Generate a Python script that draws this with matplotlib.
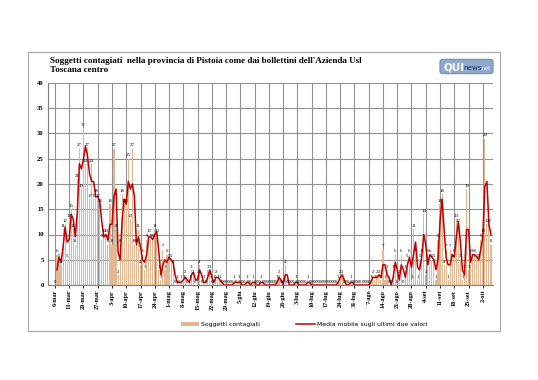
import matplotlib
matplotlib.use("Agg")
import matplotlib.pyplot as plt
import pandas as pd
from matplotlib.patches import Rectangle, FancyBboxPatch

# daily new cases, from 6 march to 6 october
cases = [
    0, 6, 5, 4, 11, 12, 5, 13, 15, 11,
    8, 21, 27, 19, 31, 24, 27, 17, 24, 17,
    18, 17, 16, 9, 10, 10, 8, 16, 8, 27,
    11, 2, 8, 18, 16, 16, 25, 13, 27, 8,
    8, 11, 4, 6, 3, 9, 10, 9, 9, 11,
    10, 3, 1, 7, 3, 6, 5, 5, 4, 0,
    1, 0, 1, 1, 2, 0, 1, 3, 2, 0,
    2, 4, 0, 1, 0, 3, 3, 0, 1, 2,
    1, 1, 0, 0, 0, 0, 0, 0, 1, 0,
    1, 0, 0, 0, 1, 0, 0, 1, 0, 0,
    0, 1, 0, 0, 0, 0, 0, 0, 0, 1,
    2, 0, 0, 4, 0, 0, 0, 0, 1, 0,
    0, 0, 0, 0, 1, 0, 0, 0, 0, 0,
    0, 0, 0, 0, 0, 0, 0, 0, 0, 1,
    2, 2, 0, 0, 0, 1, 0, 0, 0, 0,
    0, 0, 0, 0, 0, 1, 2, 1, 2, 2,
    1, 7, 1, 3, 0, 0, 3, 6, 0, 2,
    6, 0, 3, 5, 6, 1, 11, 6, 1, 5,
    6, 14, 2, 6, 6, 5, 5, 1, 9, 16,
    18, 4, 7, 1, 7, 5, 6, 13, 12, 5,
    1, 3, 19, 3, 6, 6, 6, 5, 5, 9,
    10, 29, 12, 12, 8,
]

week_labels = [
    "6-mar", "13-mar", "20-mar", "27-mar", "3-apr", "10-apr", "17-apr",
    "24-apr", "1-mag", "8-mag", "15-mag", "22-mag", "29-mag", "5-giu",
    "12-giu", "19-giu", "26-giu", "3-lug", "10-lug", "17-lug", "24-lug",
    "31-lug", "7-ago", "14-ago", "21-ago", "28-ago", "4-set", "11-set",
    "18-set", "25-set", "2-ott",
]

title = ("Soggetti contagiati  nella provincia di Pistoia come dai bollettini "
         "dell'Azienda Usl\nToscana centro")

serif = "Liberation Serif"
bar_color = "#E2B793"
line_color = "#C00000"

days = list(range(len(cases)))
moving = pd.Series(cases).rolling(2).mean()

fig = plt.figure(figsize=(5.38, 3.80), dpi=100)
fig.patch.set_facecolor("white")

# outer frame of the chart
fig.add_artist(Rectangle((28 / 538, 1 - 331 / 380), 472 / 538, 279 / 380,
                         transform=fig.transFigure, fill=False,
                         edgecolor="#A6A6A6", linewidth=0.8))

ax = fig.add_axes([48 / 538, 1 - 285 / 380, 445 / 538, 202 / 380])

bars = ax.bar(days, cases, width=0.55, color=bar_color, zorder=2,
              label="Soggetti contagiati")
line, = ax.plot(days, moving, color=line_color, linewidth=1.1, zorder=4,
                label="Media mobile sugli ultimi due valori")

for d, v in zip(days, cases):
    col = line_color if v == max(cases) else "black"
    ax.text(d, v + 0.25, str(v), ha="center", va="bottom", fontsize=3.5,
            family=serif, color=col, zorder=5)

ax.set_xlim(-3.4, 215)
ax.set_ylim(0, 40)
ax.set_yticks(range(0, 41, 5))
ax.set_xticks(range(0, len(cases), 7))
ax.set_xticklabels(week_labels, rotation=90)
ax.tick_params(axis="x", length=2, width=0.6, pad=1.5)
ax.tick_params(axis="y", length=0, pad=3)
for lab in ax.get_xticklabels():
    lab.set_fontfamily(serif)
    lab.set_fontweight("bold")
    lab.set_fontsize(4.5)
for lab in ax.get_yticklabels():
    lab.set_fontfamily(serif)
    lab.set_fontweight("bold")
    lab.set_fontsize(4.8)

ax.grid(True, color="#909090", linewidth=0.8, zorder=0)
ax.set_axisbelow(True)
for side in ["top", "right"]:
    ax.spines[side].set_visible(False)
ax.spines["left"].set_color("#7F7F7F")
ax.spines["bottom"].set_color("#7F7F7F")
ax.spines["left"].set_linewidth(0.8)
ax.spines["bottom"].set_linewidth(0.8)

fig.text(50 / 538, 1 - 57 / 380, title, ha="left", va="top", family=serif,
         fontweight="bold", fontsize=6.6, linespacing=1.2)

# QUInews logo
fig.add_artist(FancyBboxPatch((441 / 538, 1 - 73 / 380), 51 / 538, 13 / 380,
                              boxstyle="round,pad=0.002,rounding_size=0.006",
                              transform=fig.transFigure, facecolor="#8FA8CC",
                              edgecolor="#5E7DAA", linewidth=0.6))
fig.text(443 / 538, 1 - 67 / 380, "QUI", ha="left", va="center", color="white",
         fontsize=7.5, fontweight="bold", family="DejaVu Sans")
fig.text(463 / 538, 1 - 68 / 380, "news", ha="left", va="center",
         color="#1B3566", fontsize=5.2, family="DejaVu Sans")
fig.text(480 / 538, 1 - 69 / 380, ".net", ha="left", va="center",
         color="white", fontsize=3.6, family="DejaVu Sans")

ax.legend([bars, line], [bars.get_label(), line.get_label()],
          loc="upper center", bbox_to_anchor=(0.575, -0.155), ncol=2,
          frameon=False, prop={"family": "DejaVu Sans", "size": 4.4},
          handlelength=3.0, handleheight=0.6, columnspacing=6,
          handletextpad=0.3)

fig.savefig("out.png", dpi=100)
